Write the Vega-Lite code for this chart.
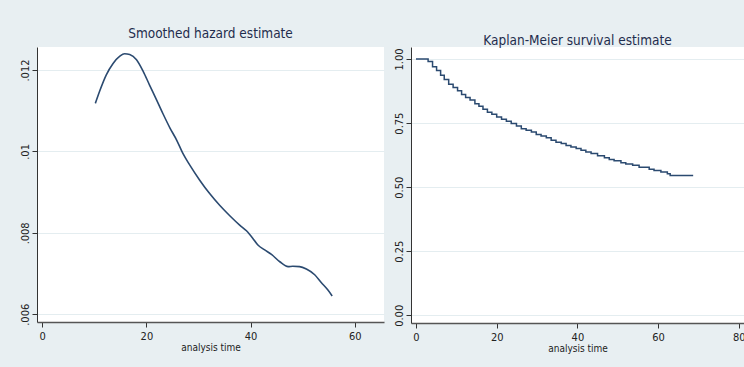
{
  "$schema": "https://vega.github.io/schema/vega-lite/v6.json",
  "background": "#e8eff2",
  "padding": {"left": 19, "top": 26, "right": 0, "bottom": 16},
  "spacing": 9,
  "config": {
    "view": {"fill": "white", "stroke": null},
    "font": "'DejaVu Sans Condensed', 'Liberation Sans', Arial, sans-serif",
    "title": {"font": "'DejaVu Sans Condensed', 'Liberation Sans', Arial, sans-serif", "fontSize": 13.5, "fontWeight": "normal", "color": "#1f2d4d", "anchor": "middle", "offset": 7},
    "axis": {"labelFont": "'DejaVu Sans Condensed', 'Liberation Sans', Arial, sans-serif", "labelFontSize": 11, "labelColor": "#222222", "titleFont": "'DejaVu Sans Condensed', 'Liberation Sans', Arial, sans-serif", "titleFontSize": 10, "titleFontWeight": "normal", "titleColor": "#222222", "tickColor": "#333333", "tickSize": 5, "domainColor": "#333333", "gridColor": "#e4edf0", "labelPadding": 2},
    "axisX": {"grid": false, "domainWidth": 1.5, "domainColor": "#555555", "titlePadding": 1, "labelPadding": 3},
    "axisY": {"labelAngle": 270, "labelAlign": "center", "labelBaseline": "bottom", "title": null, "grid": true}
  },
  "hconcat": [
    {
      "width": 347,
      "height": 275,
      "title": {"text": "Smoothed hazard estimate"},
      "data": {"values": [
        {"t": 10.2, "h": 0.01118}, {"t": 11.0, "h": 0.01147}, {"t": 12.3, "h": 0.01188}, {"t": 13.6, "h": 0.01216},
        {"t": 14.9, "h": 0.01234}, {"t": 15.8, "h": 0.0124}, {"t": 16.8, "h": 0.01238}, {"t": 18.1, "h": 0.01225},
        {"t": 19.4, "h": 0.01196}, {"t": 20.6, "h": 0.01163}, {"t": 21.9, "h": 0.01128}, {"t": 23.2, "h": 0.01092},
        {"t": 24.5, "h": 0.01058}, {"t": 25.8, "h": 0.01028}, {"t": 27.0, "h": 0.00995}, {"t": 28.3, "h": 0.00967},
        {"t": 30.2, "h": 0.0093}, {"t": 32.1, "h": 0.00897}, {"t": 34.1, "h": 0.00867}, {"t": 36.0, "h": 0.00842},
        {"t": 37.9, "h": 0.00819}, {"t": 39.2, "h": 0.00805}, {"t": 40.4, "h": 0.00787}, {"t": 41.4, "h": 0.0077},
        {"t": 42.7, "h": 0.00758}, {"t": 44.0, "h": 0.00747}, {"t": 45.6, "h": 0.00729}, {"t": 47.2, "h": 0.00717},
        {"t": 48.1, "h": 0.00718}, {"t": 49.4, "h": 0.00717}, {"t": 50.7, "h": 0.00711}, {"t": 52.3, "h": 0.00697},
        {"t": 53.55, "h": 0.00678}, {"t": 54.8, "h": 0.0066}, {"t": 55.65, "h": 0.00645}
      ]},
      "mark": {"type": "line", "interpolate": "monotone", "color": "#2b4a70", "strokeWidth": 1.6, "clip": true},
      "encoding": {
        "x": {"field": "t", "type": "quantitative", "scale": {"domain": [-1, 65.6], "nice": false, "zero": false}, "axis": {"values": [0, 20, 40, 60], "title": "analysis time"}},
        "y": {"field": "h", "type": "quantitative", "scale": {"domain": [0.00581, 0.012565], "nice": false, "zero": false}, "axis": {"values": [0.006, 0.008, 0.01, 0.012], "labelExpr": "replace(format(datum.value, '.3~f'), '0.', '.')"}}
      }
    },
    {
      "width": 333,
      "height": 276,
      "title": {"text": "Kaplan-Meier survival estimate", "offset": 0},
      "data": {"values": [
        {"t": 0, "s": 1.0}, {"t": 3.0, "s": 0.99}, {"t": 4.1, "s": 0.97}, {"t": 5.1, "s": 0.955}, {"t": 6.1, "s": 0.937},
        {"t": 7.0, "s": 0.92}, {"t": 8.1, "s": 0.902}, {"t": 9.2, "s": 0.889}, {"t": 10.3, "s": 0.876}, {"t": 11.3, "s": 0.862},
        {"t": 12.3, "s": 0.85}, {"t": 13.4, "s": 0.84}, {"t": 14.6, "s": 0.826}, {"t": 15.6, "s": 0.816}, {"t": 16.6, "s": 0.804},
        {"t": 17.7, "s": 0.792}, {"t": 18.8, "s": 0.785}, {"t": 20.0, "s": 0.774}, {"t": 21.2, "s": 0.765}, {"t": 22.4, "s": 0.757},
        {"t": 23.6, "s": 0.748}, {"t": 24.9, "s": 0.739}, {"t": 26.1, "s": 0.728}, {"t": 27.3, "s": 0.722}, {"t": 28.6, "s": 0.715},
        {"t": 29.8, "s": 0.706}, {"t": 31.0, "s": 0.7}, {"t": 32.3, "s": 0.693}, {"t": 33.5, "s": 0.683}, {"t": 34.7, "s": 0.675},
        {"t": 36.0, "s": 0.67}, {"t": 37.2, "s": 0.663}, {"t": 38.4, "s": 0.657}, {"t": 39.7, "s": 0.651}, {"t": 40.9, "s": 0.644},
        {"t": 42.1, "s": 0.637}, {"t": 43.4, "s": 0.631}, {"t": 45.0, "s": 0.623}, {"t": 46.7, "s": 0.615}, {"t": 47.9, "s": 0.608},
        {"t": 49.1, "s": 0.603}, {"t": 50.8, "s": 0.595}, {"t": 52.0, "s": 0.59}, {"t": 53.7, "s": 0.586}, {"t": 55.3, "s": 0.578},
        {"t": 57.8, "s": 0.57}, {"t": 59.0, "s": 0.565}, {"t": 60.7, "s": 0.559}, {"t": 62.3, "s": 0.552}, {"t": 63.0, "s": 0.546},
        {"t": 68.7, "s": 0.546}
      ]},
      "mark": {"type": "line", "interpolate": "step-after", "color": "#2b4a70", "strokeWidth": 1.5, "clip": true},
      "encoding": {
        "x": {"field": "t", "type": "quantitative", "scale": {"domain": [-1.24, 81.3], "nice": false, "zero": false}, "axis": {"values": [0, 20, 40, 60, 80], "title": "analysis time"}},
        "y": {"field": "s", "type": "quantitative", "scale": {"domain": [-0.03, 1.047], "nice": false, "zero": false}, "axis": {"values": [0, 0.25, 0.5, 0.75, 1], "format": ".2f"}}
      }
    }
  ]
}
